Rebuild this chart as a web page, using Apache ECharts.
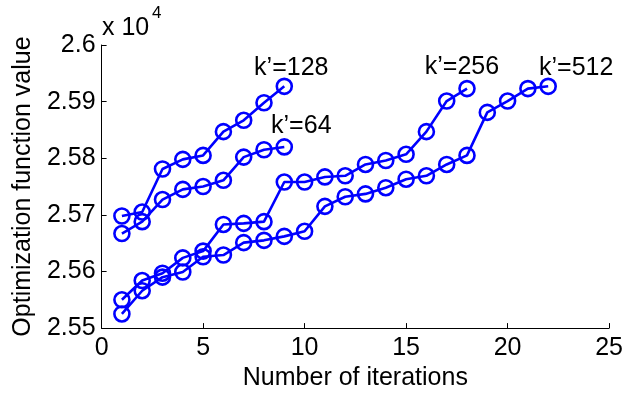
<!DOCTYPE html>
<html><head><meta charset="utf-8">
<script src="https://cdn.jsdelivr.net/npm/echarts@6/dist/echarts.min.js"></script>
<style>html,body{margin:0;padding:0;background:#fff}#c{width:626px;height:396px}</style>
</head><body><div id="c"></div>
<script>
const xTicks = [0, 5, 10, 15, 20, 25];
const yTicks = [2.55, 2.56, 2.57, 2.58, 2.59, 2.6];
const seriesNames = ["k\u2019=128", "k\u2019=64", "k\u2019=256", "k\u2019=512"];
const k128 = [25698, 25705, 25781, 25798, 25805, 25847, 25867, 25898, 25927];
const k64 = [25667, 25688, 25727, 25745, 25750, 25761, 25802, 25815, 25820];
const k256 = [25550, 25584, 25597, 25624, 25636, 25683, 25685, 25688, 25758, 25758, 25767, 25769, 25789, 25796, 25807, 25847, 25901, 25923];
const k512 = [25525, 25566, 25590, 25599, 25626, 25629, 25651, 25655, 25662, 25671, 25715, 25732, 25737, 25748, 25763, 25769, 25789, 25805, 25881, 25901, 25923, 25927];
const labelOffsets = [[7, -18], [17, -21], [-5, -21], [28, -18]];

const chart = echarts.init(document.getElementById('c'), null, {renderer: 'canvas'});
const font = 'Liberation Sans, Arial, sans-serif';
const FS = 25;
function mk(name, vals, off) {
  const data = vals.map((v, i) => {
    const item = {value: [i + 1, v]};
    if (i === vals.length - 1) {
      item.label = {show: true, formatter: name, position: 'inside', align: 'center', verticalAlign: 'middle',
        offset: off, color: '#000', fontSize: FS, fontFamily: font};
    }
    return item;
  });
  return {
    name, type: 'line', data, symbol: 'circle', symbolSize: 15,
    lineStyle: {color: '#0000ff', width: 2.6},
    itemStyle: {color: 'rgba(0,0,0,0)', borderColor: '#0000ff', borderWidth: 2.6},
    label: {show: false}, animation: false, z: 3
  };
}
chart.setOption({
  animation: false,
  backgroundColor: '#fff',
  grid: {left: 101.6, right: 16, top: 45, bottom: 59, containLabel: false},
  xAxis: {
    type: 'value', min: xTicks[0], max: xTicks[xTicks.length - 1], interval: 5,
    name: 'Number of iterations', nameLocation: 'middle', nameGap: 35,
    nameTextStyle: {color: '#000', fontSize: FS, fontFamily: font},
    axisLine: {show: true, lineStyle: {color: '#000', width: 1}},
    axisTick: {show: true, inside: true, length: 5, lineStyle: {color: '#000'}},
    axisLabel: {color: '#000', fontSize: FS, fontFamily: font, margin: 8},
    splitLine: {show: false}
  },
  yAxis: {
    type: 'value', min: yTicks[0] * 10000, max: yTicks[yTicks.length - 1] * 10000, interval: 100,
    name: 'Optimization function value', nameLocation: 'middle', nameGap: 65, nameRotate: 90,
    nameTextStyle: {color: '#000', fontSize: FS, fontFamily: font},
    axisLine: {show: true, lineStyle: {color: '#000', width: 1}},
    axisTick: {show: true, inside: true, length: 5, lineStyle: {color: '#000'}},
    axisLabel: {color: '#000', fontSize: FS, fontFamily: font, margin: 6,
      formatter: v => String(+(v / 10000).toFixed(2))},
    splitLine: {show: false}
  },
  graphic: [
    {type: 'text', left: 102, top: 16, style: {text: 'x 10', fill: '#000', font: FS + 'px ' + font}},
    {type: 'text', left: 152, top: 5, style: {text: '4', fill: '#000', font: '17px ' + font}}
  ],
  series: [mk(seriesNames[0], k128, labelOffsets[0]), mk(seriesNames[1], k64, labelOffsets[1]),
           mk(seriesNames[2], k256, labelOffsets[2]), mk(seriesNames[3], k512, labelOffsets[3])]
});
</script></body></html>
